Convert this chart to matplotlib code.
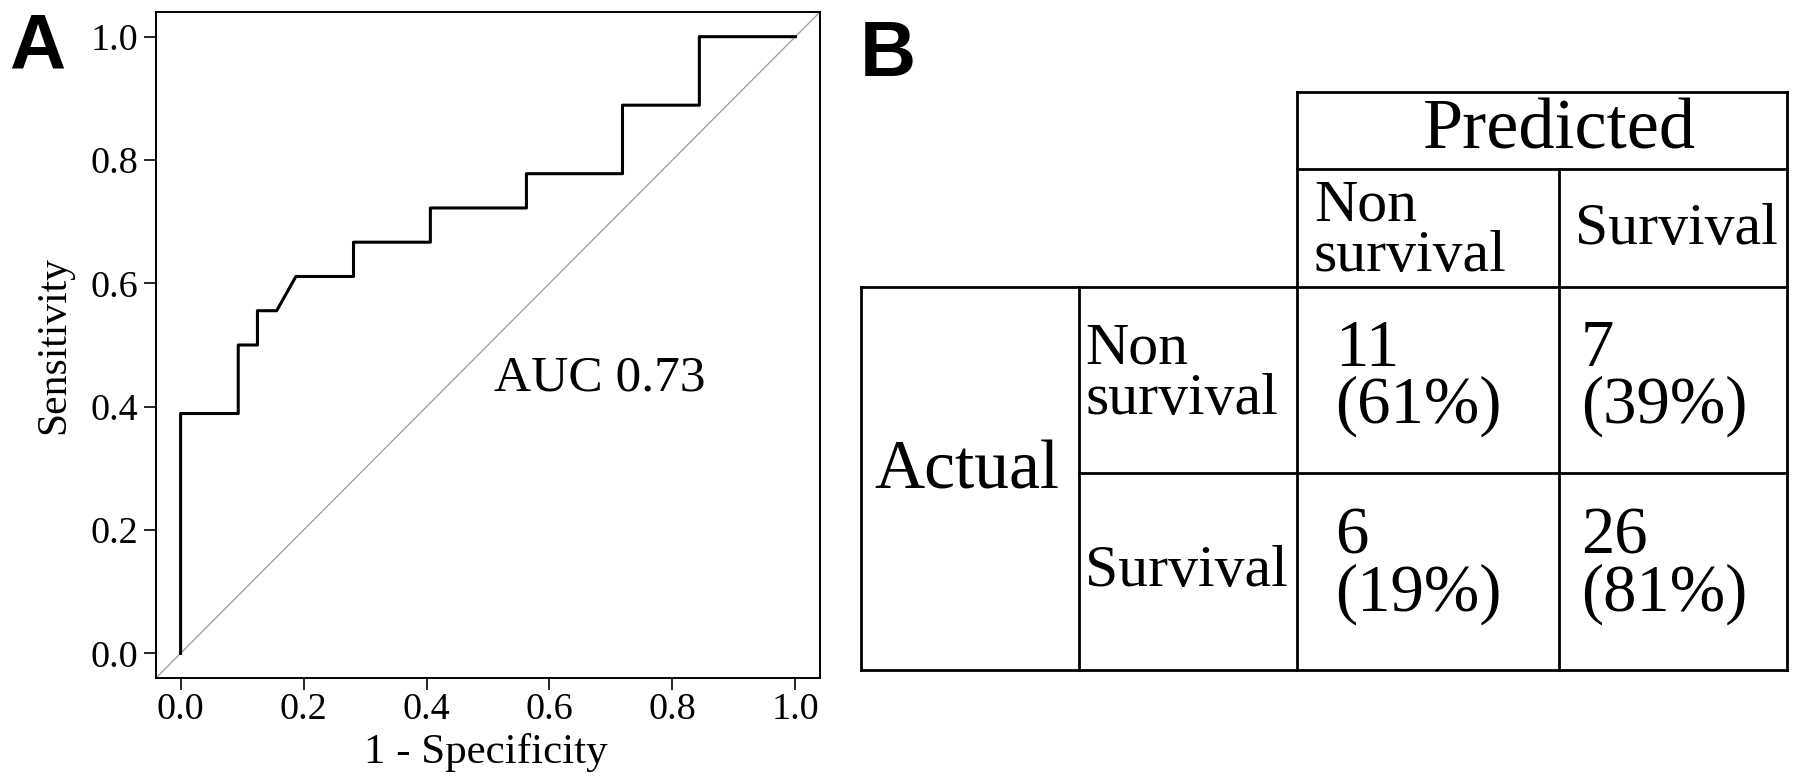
import matplotlib
matplotlib.use('Agg')
import matplotlib.pyplot as plt

plt.rcParams['font.family'] = ['Liberation Serif', 'DejaVu Serif']

# ROC curve points (1 - specificity, sensitivity)
fpr = [0.0, 0.0, 0.09375, 0.09375, 0.125, 0.125, 0.15625, 0.1875, 0.28125, 0.28125,
       0.40625, 0.40625, 0.5625, 0.5625, 0.71875, 0.71875, 0.84375, 0.84375, 1.0]
tpr = [0.0, 0.3889, 0.3889, 0.5, 0.5, 0.5556, 0.5556, 0.6111, 0.6111, 0.6667,
       0.6667, 0.7222, 0.7222, 0.7778, 0.7778, 0.8889, 0.8889, 1.0, 1.0]
auc_text = 'AUC 0.73'
ticks = [0.0, 0.2, 0.4, 0.6, 0.8, 1.0]

# confusion matrix
classes = ['Non\nsurvival', 'Survival']
counts = [[11, 7], [6, 26]]
percents = [[61, 39], [19, 81]]

W, H = 1800, 782
fig = plt.figure(figsize=(W / 100, H / 100), dpi=100)

# ---- panel A: ROC ----
ax = fig.add_axes([156 / W, 1 - 678 / H, 664 / W, 666 / H])
ax.plot([0, 1], [0, 1], transform=ax.transAxes, color='#9a9a9a', lw=0.9)
ax.plot(fpr, tpr, color='black', lw=2.2)
ax.set_xlim(-0.04, 1.04)
ax.set_ylim(-0.04, 1.04)
ax.set_xticks(ticks)
ax.set_yticks(ticks)
ax.set_xticklabels([f'{t:.1f}' for t in ticks])
ax.set_yticklabels([f'{t:.1f}' for t in ticks])
ax.tick_params(labelsize=27.5, length=8.5, width=1.2)
ax.tick_params(axis='x', pad=2)
ax.tick_params(axis='y', pad=4)
for s in ax.spines.values():
    s.set_linewidth(1.4)
ax.set_xlabel('1 - Specificity', fontsize=31)
ax.set_ylabel('Sensitivity', fontsize=30)
ax.xaxis.set_label_coords(0.497, -0.082)
ax.yaxis.set_label_coords(-0.125, 0.5)
ax.text(0.51, 0.426, auc_text, fontsize=37, ha='left', va='baseline')

fig.text(9 / W, 1 - 48 / H, 'A', fontsize=56, fontweight='bold',
         family='Liberation Sans', ha='left', va='center')
fig.text(860 / W, 1 - 56 / H, 'B', fontsize=56, fontweight='bold',
         family='Liberation Sans', ha='left', va='center')

# ---- panel B: confusion matrix table (pixel layout) ----
tb = fig.add_axes([0, 0, 1, 1])
tb.set_xlim(0, W)
tb.set_ylim(H, 0)
tb.axis('off')

xs = [861, 1079, 1297, 1559, 1787]
ys = [92, 169, 287, 473, 670]
kw = dict(color='black', lw=2.0, solid_capstyle='projecting')

# predicted header box
tb.plot([xs[2], xs[4]], [ys[0], ys[0]], **kw)
tb.plot([xs[2], xs[4]], [ys[1], ys[1]], **kw)
tb.plot([xs[2], xs[2]], [ys[0], ys[4]], **kw)
tb.plot([xs[4], xs[4]], [ys[0], ys[4]], **kw)
tb.plot([xs[3], xs[3]], [ys[1], ys[4]], **kw)
# body
tb.plot([xs[0], xs[4]], [ys[2], ys[2]], **kw)
tb.plot([xs[1], xs[4]], [ys[3], ys[3]], **kw)
tb.plot([xs[0], xs[4]], [ys[4], ys[4]], **kw)
tb.plot([xs[0], xs[0]], [ys[2], ys[4]], **kw)
tb.plot([xs[1], xs[1]], [ys[2], ys[4]], **kw)

tb.text(1559, 131, 'Predicted', fontsize=52, ha='center', va='center')
tb.text(874, 472, 'Actual', fontsize=50, ha='left', va='center')

col_x = [1314, 1575]
col_y = [232, 230]
for i, c in enumerate(classes):
    tb.text(col_x[i], col_y[i], c, fontsize=43, ha='left', va='center',
            linespacing=0.92)

row_y = [375, 572]
for i, c in enumerate(classes):
    tb.text(1085, row_y[i], c, fontsize=43, ha='left', va='center',
            linespacing=0.92)

cell_x = [1335, 1581]
cell_y = [378, 566]
for r in range(2):
    for c in range(2):
        tb.text(cell_x[c], cell_y[r], f'{counts[r][c]}\n({percents[r][c]}%)',
                fontsize=48, ha='left', va='center', linespacing=0.92)

fig.savefig('out.png', dpi=100)
